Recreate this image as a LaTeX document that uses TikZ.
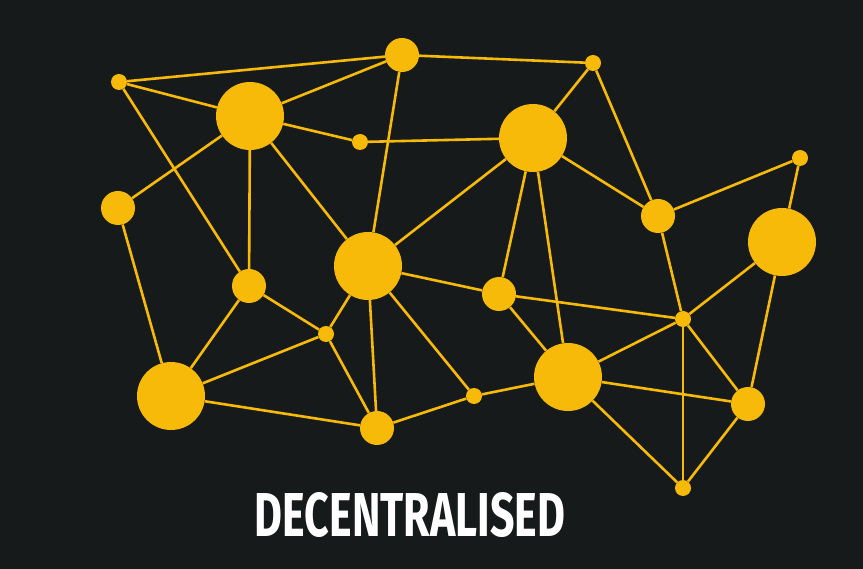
\documentclass[tikz,border=0pt]{standalone}
\usepackage{fontspec}
\setmainfont{Fira Sans}
\usepackage{graphicx}
\definecolor{bg}{RGB}{23,26,27}
\definecolor{gold}{RGB}{247,186,8}
\begin{document}
\begin{tikzpicture}[x=1pt,y=-1pt,
  dot/.style={circle,fill=gold,inner sep=0pt,draw=none},
  big/.style={dot,minimum size=68pt},
  mid/.style={dot,minimum size=34pt},
  sml/.style={dot,minimum size=16pt},
  link/.style={draw=gold,line width=2.6pt}]
\fill[bg] (0,0) rectangle (863,569);
\useasboundingbox (0,0) rectangle (863,569);
\node[sml] (A) at (119,82) {};
\node[big] (B) at (250,116) {};
\node[mid] (C) at (402,55) {};
\node[sml] (D) at (593,63) {};
\node[sml] (E) at (360,142) {};
\node[big] (F) at (533,138) {};
\node[sml] (G) at (800,158) {};
\node[mid] (H) at (118,208) {};
\node[mid] (I) at (658,216) {};
\node[big] (J) at (782,242) {};
\node[big] (K) at (368,266) {};
\node[mid] (L) at (249,286) {};
\node[mid] (M) at (499,294) {};
\node[sml] (N) at (683,319) {};
\node[sml] (O) at (326,334) {};
\node[big] (P) at (171,396) {};
\node[big] (Q) at (568,377) {};
\node[sml] (R) at (474,396) {};
\node[mid] (S) at (377,428) {};
\node[mid] (T) at (748,404) {};
\node[sml] (U) at (683,488) {};
\foreach \a/\b in {A/C,A/B,A/L,B/C,B/E,B/H,B/L,B/K,C/D,C/K,E/F,F/D,F/I,F/K,F/M,F/Q,D/I,I/G,G/J,I/N,J/N,J/T,H/P,L/P,L/O,K/O,K/M,K/S,K/R,O/P,O/S,P/S,M/N,M/Q,S/R,R/Q,Q/N,Q/T,Q/U,N/U,N/T,T/U}
  \draw[link] (\a) -- (\b);
\node[text=white,inner sep=0pt] (title) at (410,515) {\resizebox{310pt}{44pt}{\bfseries DECENTRALISED}};
\end{tikzpicture}
\end{document}
